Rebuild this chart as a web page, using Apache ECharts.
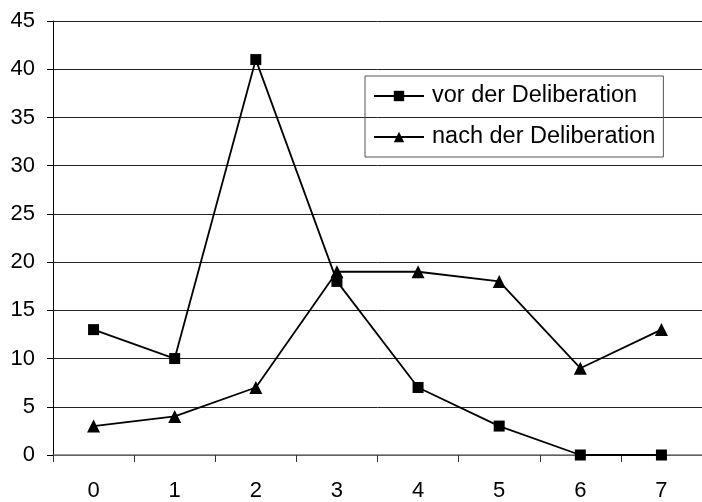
<!DOCTYPE html>
<html>
<head>
<meta charset="utf-8">
<script src="https://cdn.jsdelivr.net/npm/echarts@6/dist/echarts.min.js"></script>
<style>
  html, body { margin: 0; padding: 0; background: #fff; }
  #chart { width: 702px; height: 502px; }
</style>
</head>
<body>
<div id="chart"></div>
<script>
const categories = ["0", "1", "2", "3", "4", "5", "6", "7"];
const vorValues = [13, 10, 41, 18, 7, 3, 0, 0];
const nachValues = [3, 4, 7, 19, 19, 18, 9, 13];

const chart = echarts.init(document.getElementById("chart"));

const font = "Liberation Sans, Arial, sans-serif";

const option = {
  animation: false,
  textStyle: { fontFamily: font },
  grid: { left: 53, right: -2, top: 21, bottom: 47 },
  legend: {
    orient: "vertical",
    left: 365,
    top: 76,
    padding: [7, 8, 7, 8],
    itemGap: 15,
    itemWidth: 50,
    itemHeight: 13,
    borderColor: "#555",
    borderWidth: 1,
    textStyle: { fontSize: 23.5, lineHeight: 26, color: "#000", fontFamily: font, padding: [0, 0, 0, 3] },
    data: ["vor der Deliberation", "nach der Deliberation"]
  },
  xAxis: {
    type: "category",
    data: categories,
    boundaryGap: true,
    axisLine: { lineStyle: { color: "#777", width: 1.5 } },
    axisTick: { show: true, inside: false, length: 7, lineStyle: { color: "#333" } },
    axisLabel: { fontSize: 22, color: "#000", margin: 25 }
  },
  yAxis: {
    type: "value",
    min: 0,
    max: 45,
    interval: 5,
    axisLine: { show: true, lineStyle: { color: "#000" } },
    axisTick: { show: true, length: 6, lineStyle: { color: "#000" } },
    axisLabel: { fontSize: 22, color: "#000", margin: 18 },
    splitLine: { lineStyle: { color: "#222", width: 1 } }
  },
  series: [
    {
      name: "vor der Deliberation",
      type: "line",
      data: vorValues,
      symbol: "rect",
      symbolSize: 11,
      lineStyle: { color: "#000", width: 1.8 },
      itemStyle: { color: "#000" }
    },
    {
      name: "nach der Deliberation",
      type: "line",
      data: nachValues,
      symbol: "triangle",
      symbolSize: 13,
      lineStyle: { color: "#000", width: 1.8 },
      itemStyle: { color: "#000" }
    }
  ]
};

chart.setOption(option);
</script>
</body>
</html>
